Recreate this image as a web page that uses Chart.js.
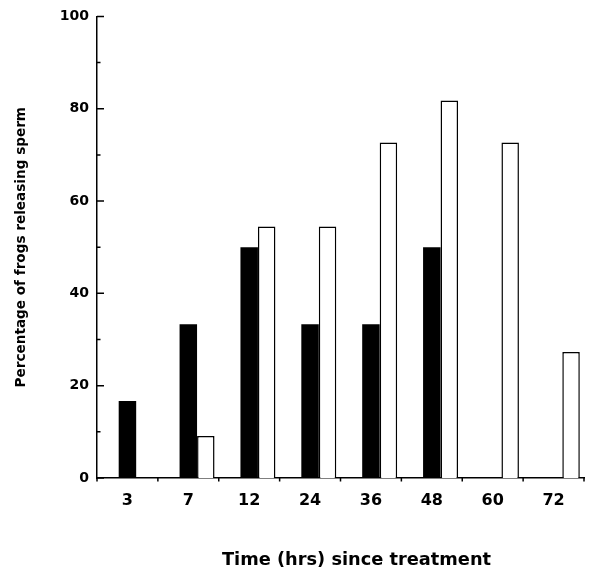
<!DOCTYPE html>
<html><head><meta charset="utf-8">
<script src="https://cdn.jsdelivr.net/npm/chart.js@4"></script>
<style>html,body{margin:0;padding:0;background:#fff}</style>
</head><body>
<canvas id="c" width="600" height="575"></canvas>
<script>
const categories = ['3', '7', '12', '24', '36', '48', '60', '72'];
const blackValues = [16.7, 33.3, 50, 33.3, 33.3, 50, 0, 0];
const whiteValues = [0, 9.1, 54.5, 54.5, 72.7, 81.8, 72.7, 27.3];
const emptySlot = [null, null, null, null, null, null, null, null];
const yMajorTicks = [0, 20, 40, 60, 80, 100];
const yMinorTicks = [10, 30, 50, 70, 90];
const xTitleText = 'Time (hrs) since treatment';
const yTitleText = 'Percentage of frogs releasing sperm';

const FONT = '"DejaVu Sans", sans-serif';

const tickPlugin = {
  id: 'tickMarks',
  afterDraw(chart) {
    const ctx = chart.ctx;
    const x = chart.scales.x, y = chart.scales.y;
    const area = chart.chartArea;
    ctx.save();
    ctx.strokeStyle = '#000';
    ctx.lineWidth = 1.5;
    ctx.beginPath();
    yMajorTicks.forEach(v => {
      const py = y.getPixelForValue(v);
      ctx.moveTo(area.left, py); ctx.lineTo(area.left + 7, py);
    });
    yMinorTicks.forEach(v => {
      const py = y.getPixelForValue(v);
      ctx.moveTo(area.left, py); ctx.lineTo(area.left + 3.5, py);
    });
    for (let i = 0; i <= categories.length; i++) {
      const px = x.getPixelForValue(i - 0.5);
      ctx.moveTo(px, area.bottom); ctx.lineTo(px, area.bottom + 3.5);
    }
    ctx.stroke();
    // x-axis title
    ctx.fillStyle = '#000';
    ctx.font = 'bold 17.8px ' + FONT;
    ctx.textAlign = 'center';
    ctx.textBaseline = 'alphabetic';
    ctx.fillText(xTitleText, (area.left + area.right) / 2 + 16, 565);
    ctx.restore();
  }
};

new Chart(document.getElementById('c'), {
  type: 'bar',
  data: {
    labels: categories,
    datasets: [
      { label: 'slot', data: emptySlot, backgroundColor: '#fff', borderWidth: 0 },
      { label: 'black', data: blackValues, backgroundColor: '#000', borderColor: '#000', borderWidth: 0 },
      { label: 'white', data: whiteValues, backgroundColor: '#fff', borderColor: '#000', borderWidth: 1.5 }
    ]
  },
  options: {
    responsive: false,
    animation: false,
    devicePixelRatio: 1,
    datasets: { bar: { categoryPercentage: 0.862, barPercentage: 1 } },
    layout: { padding: { top: 13, right: 16, bottom: 0, left: 0 } },
    plugins: { legend: { display: false }, tooltip: { enabled: false } },
    scales: {
      x: {
        grid: { display: false, drawTicks: false },
        border: { display: true, color: '#000', width: 1.5 },
        ticks: { color: '#000', padding: 13, font: { family: FONT, weight: 'bold', size: 16 } },
        afterFit(s) { s.height = 97; }
      },
      y: {
        min: 0, max: 100,
        grid: { display: false, drawTicks: false },
        border: { display: true, color: '#000', width: 1.5 },
        ticks: { stepSize: 20, color: '#000', padding: 8, font: { family: FONT, weight: 'bold', size: 14 } },
        title: { display: true, text: yTitleText, color: '#000', padding: { top: 13.5, bottom: 0 },
                 font: { family: FONT, weight: 'bold', size: 13.6 } },
        afterFit(s) { s.width = 97; }
      }
    }
  },
  plugins: [tickPlugin]
});
</script>
</body></html>
